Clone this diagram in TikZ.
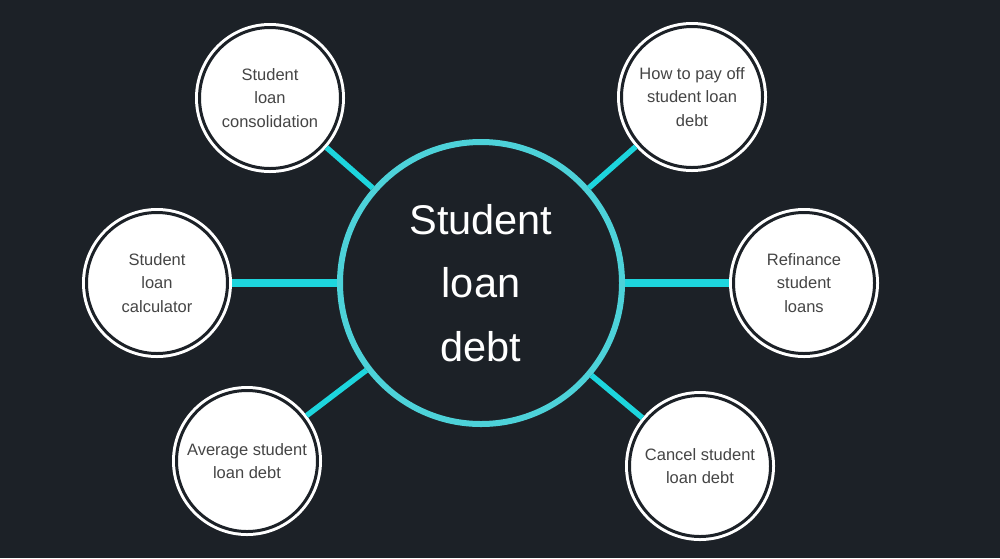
\documentclass[tikz,border=0pt]{standalone}
\usepackage{fontspec}
\setmainfont{Liberation Sans}
\definecolor{bgc}{HTML}{1C2127}
\definecolor{ringc}{HTML}{4DD2D9}
\definecolor{linkc}{HTML}{1DD5DD}
\definecolor{txtc}{HTML}{454545}
\begin{document}
\begin{tikzpicture}[x=1pt,y=-1pt,
  hub/.style={draw=ringc,line width=6pt,fill=bgc,shape=circle,inner sep=0pt,minimum size=282pt,
    text=white,align=center,font=\fontsize{41.5}{63.5}\selectfont},
  leaf/.style={draw=white,double=bgc,double distance=3pt,line width=3pt,outer sep=4.5pt,fill=white,
    shape=circle,inner sep=0pt,minimum size=141pt,text=txtc,align=center,font=\fontsize{16.5}{23.5}\selectfont},
  link/.style={draw=linkc,line width=5.5pt},
  flat/.style={draw=linkc,line width=8pt}]
  \useasboundingbox (0,0) rectangle (1000,558);
  \fill[bgc] (0,0) rectangle (1000,558);
  \path (481,283) node[hub] (c0) {Student\\loan\\debt}
  (270,98) node[leaf] (s1) {Student\\loan\\consolidation}
  (692,97) node[leaf] (s2) {How to pay off\\student loan\\debt}
  (157,283) node[leaf] (s3) {Student\\loan\\calculator}
  (804,283) node[leaf] (s4) {Refinance\\student\\loans}
  (247,461) node[leaf] (s5) {Average student\\loan debt}
  (700,466) node[leaf] (s6) {Cancel student\\loan debt};
  \draw[link] (c0) -- (s1);
  \draw[link] (c0) -- (s2);
  \draw[flat] (c0) -- (s3);
  \draw[flat] (c0) -- (s4);
  \draw[link] (c0) -- (s5);
  \draw[link] (c0) -- (s6);
\end{tikzpicture}
\end{document}
